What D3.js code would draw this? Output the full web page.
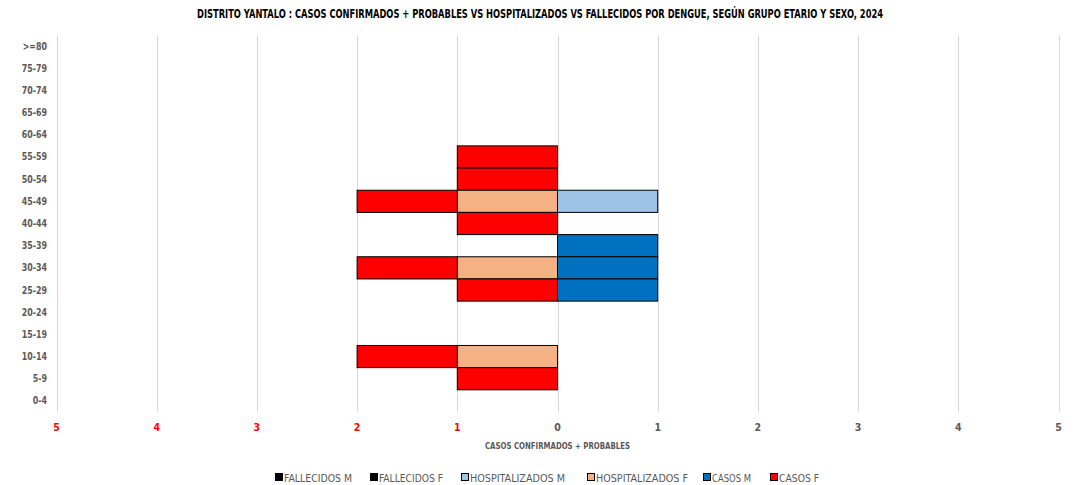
<!DOCTYPE html>
<html><head><meta charset="utf-8">
<script src="https://cdn.jsdelivr.net/npm/d3@7"></script>
<style>body{margin:0;background:#fff}svg{display:block}text{font-family:"Liberation Sans Narrow","Arial Narrow","DejaVu Sans Condensed",sans-serif}</style>
</head><body><svg id="c" width="1076" height="485"></svg>
<script>
const ageGroups = [">=80","75-79","70-74","65-69","60-64","55-59","50-54","45-49","40-44","35-39","30-34","25-29","20-24","15-19","10-14","5-9","0-4"];
// values per age group (same order)
const fallecidosM     = [0,0,0,0,0,0,0,0,0,0,0,0,0,0,0,0,0];
const fallecidosF     = [0,0,0,0,0,0,0,0,0,0,0,0,0,0,0,0,0];
const hospitalizadosM = [0,0,0,0,0,0,0,1,0,0,0,0,0,0,0,0,0];
const hospitalizadosF = [0,0,0,0,0,0,0,1,0,0,1,0,0,0,1,0,0];
const casosM          = [0,0,0,0,0,0,0,0,0,1,1,1,0,0,0,0,0];
const casosF          = [0,0,0,0,0,1,1,1,1,0,1,1,0,0,1,1,0];
const xTicks = [-5,-4,-3,-2,-1,0,1,2,3,4,5];
const title = "DISTRITO YANTALO : CASOS CONFIRMADOS + PROBABLES VS HOSPITALIZADOS VS FALLECIDOS POR DENGUE, SEGÚN GRUPO ETARIO Y SEXO, 2024";
const xTitle = "CASOS CONFIRMADOS + PROBABLES";
const legendNames = ["FALLECIDOS M","FALLECIDOS F","HOSPITALIZADOS M","HOSPITALIZADOS F","CASOS M","CASOS F"];
const colors = {"FALLECIDOS M":"#000000","FALLECIDOS F":"#000000","HOSPITALIZADOS M":"#9DC3E6","HOSPITALIZADOS F":"#F4B183","CASOS M":"#0070C0","CASOS F":"#FF0000"};

const svg = d3.select("#c");
const x = d3.scaleLinear().domain([-5,5]).range([56.5,1058.5]);
const y = d3.scaleBand().domain(ageGroups).range([35,412]).padding(0);

svg.append("text").attr("x",540).attr("y",18).attr("text-anchor","middle")
  .attr("font-size",11.5).attr("font-weight","bold").attr("fill","#000")
  .attr("textLength",686).attr("lengthAdjust","spacingAndGlyphs").text(title);

// gridlines
svg.append("g").selectAll("line").data(xTicks).join("line")
  .attr("x1",d=>Math.round(x(d))+0.5).attr("x2",d=>Math.round(x(d))+0.5)
  .attr("y1",35).attr("y2",412).attr("stroke","#d9d9d9").attr("stroke-width",1);

// stacked series: male positive, female negative
const male = [["FALLECIDOS M",fallecidosM],["HOSPITALIZADOS M",hospitalizadosM],["CASOS M",casosM]];
const female = [["FALLECIDOS F",fallecidosF],["HOSPITALIZADOS F",hospitalizadosF],["CASOS F",casosF]];
const segs = [];
function stack(series, sign){
  ageGroups.forEach((g,i)=>{
    let acc=0;
    series.forEach(([name,vals])=>{
      const v=vals[i];
      if(v>0){segs.push({g,name,x0:sign*acc,x1:sign*(acc+v)});acc+=v;}
    });
  });
}
stack(male,1); stack(female,-1);
svg.append("g").selectAll("rect").data(segs).join("rect")
  .attr("x",d=>x(Math.min(d.x0,d.x1))).attr("width",d=>Math.abs(x(d.x1)-x(d.x0)))
  .attr("y",d=>y(d.g)).attr("height",y.bandwidth())
  .attr("fill",d=>colors[d.name]).attr("stroke","#000").attr("stroke-width",1);

// y axis labels
svg.append("g").selectAll("text").data(ageGroups).join("text")
  .attr("x",47).attr("y",d=>y(d)+y.bandwidth()/2+3.5).attr("text-anchor","end")
  .attr("font-size",10).attr("font-weight","bold").attr("fill","#595959")
  .attr("transform",d=>`translate(${47*0.12},0) scale(0.88,1)`).text(d=>d);

// x tick labels
svg.append("g").selectAll("text").data(xTicks).join("text")
  .attr("x",d=>x(d)).attr("y",431).attr("text-anchor","middle")
  .attr("font-size",10.5).attr("font-weight","bold")
  .attr("fill",d=>d<0?"#FF0000":"#595959").text(d=>Math.abs(d));

svg.append("text").attr("x",x(0)).attr("y",449).attr("text-anchor","middle")
  .attr("font-size",9).attr("font-weight","bold").attr("fill","#595959")
  .attr("textLength",145).attr("lengthAdjust","spacingAndGlyphs").text(xTitle);

// legend
const legX = [275,370,461,587,703,770];
const legW = [68,64,95,92,39,40];
const lg = svg.append("g").selectAll("g").data(legendNames).join("g")
  .attr("transform",(d,i)=>`translate(${legX[i]},473)`);
lg.append("rect").attr("x",0.5).attr("y",0.5).attr("width",7).attr("height",7)
  .attr("fill",d=>colors[d]).attr("stroke","#000").attr("stroke-width",1);
lg.append("text").attr("x",9).attr("y",8.5).attr("font-size",11).attr("fill","#595959")
  .attr("textLength",(d,i)=>legW[i]).attr("lengthAdjust","spacingAndGlyphs").text(d=>d);
</script></body></html>
